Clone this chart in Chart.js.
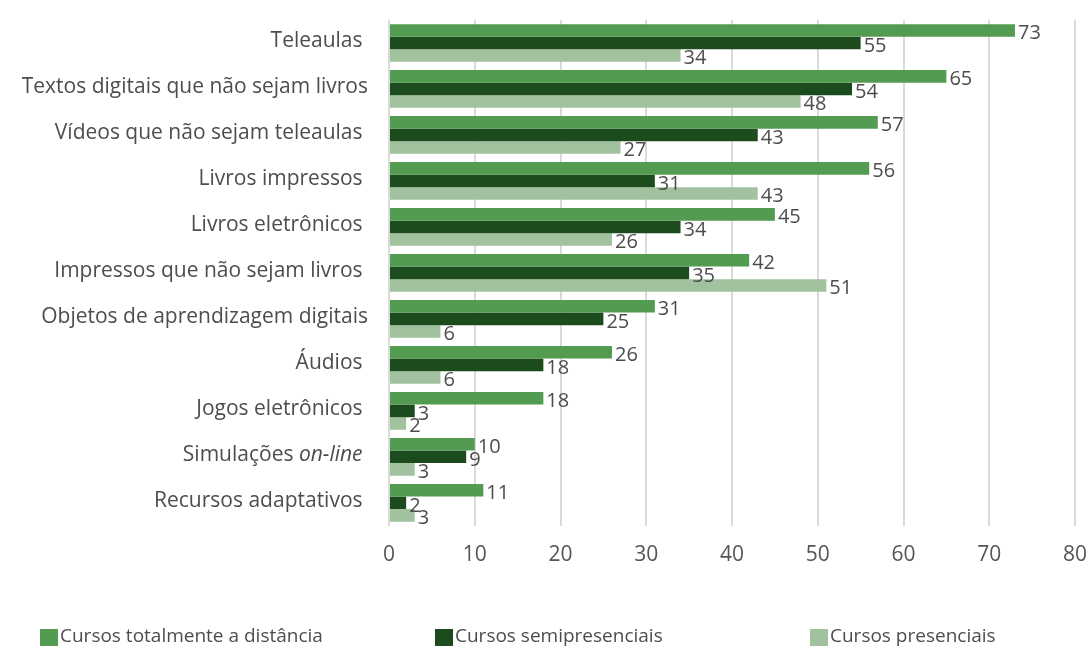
<!DOCTYPE html>
<html lang="pt">
<head>
  <meta charset="UTF-8">
  <title>Recursos educacionais</title>
  <script src="https://cdn.jsdelivr.net/npm/chart.js"></script>
  <style>
    body { margin: 0; background: #fff; }
    .wrap { width: 1086px; height: 648px; position: relative; }
  </style>
</head>
<body>
  <div class="wrap">
    <canvas id="recursosChart"></canvas>
  </div>

  <script>
    const categorias = [
      'Teleaulas ',
      'Textos digitais que não sejam livros',
      'Vídeos que não sejam teleaulas ',
      'Livros impressos ',
      'Livros eletrônicos ',
      'Impressos que não sejam livros ',
      'Objetos de aprendizagem digitais',
      'Áudios ',
      'Jogos eletrônicos ',
      'Simulações on-line ',
      'Recursos adaptativos '
    ];
    const distancia = [73, 65, 57, 56, 45, 42, 31, 26, 18, 10, 11];
    const semipresenciais = [55, 54, 43, 31, 34, 35, 25, 18, 3, 9, 2];
    const presenciais = [34, 48, 27, 43, 26, 51, 6, 6, 2, 3, 3];
    const ticksX = [0, 10, 20, 30, 40, 50, 60, 70, 80];

    const fonte = '"Open Sans", "Noto Sans", sans-serif';
    const corTexto = '#4d4d4d';

    // rótulos do eixo y (com "on-line" em itálico)
    const rotulosY = {
      id: 'rotulosY',
      afterDraw(chart) {
        const ctx = chart.ctx;
        const y = chart.scales.y;
        const xr = chart.chartArea.left - 21;
        ctx.save();
        ctx.fillStyle = corTexto;
        ctx.textBaseline = 'middle';
        ctx.textAlign = 'right';
        categorias.forEach((c, i) => {
          const py = y.getPixelForValue(i) - 2;
          if (c.indexOf('on-line') >= 0) {
            const p1 = 'Simulações ';
            const p2 = 'on-line ';
            ctx.font = 'italic 21px ' + fonte;
            const w2 = ctx.measureText(p2).width;
            ctx.fillText(p2, xr, py);
            ctx.font = '21px ' + fonte;
            ctx.fillText(p1, xr - w2, py);
          } else {
            ctx.font = '21px ' + fonte;
            ctx.fillText(c, xr, py);
          }
        });
        ctx.restore();
      }
    };

    // valores no fim das barras
    const valores = {
      id: 'valores',
      afterDatasetsDraw(chart) {
        const ctx = chart.ctx;
        ctx.save();
        ctx.font = '20px ' + fonte;
        ctx.fillStyle = corTexto;
        ctx.textAlign = 'left';
        ctx.textBaseline = 'middle';
        chart.data.datasets.forEach((ds, di) => {
          chart.getDatasetMeta(di).data.forEach((bar, i) => {
            ctx.fillText(ds.data[i], bar.x + 3, bar.y + 3);
          });
        });
        ctx.restore();
      }
    };

    // legenda embaixo, itens espaçados como no original
    const legendaX = [40, 435, 810];
    const legenda = {
      id: 'legenda',
      afterDraw(chart) {
        const ctx = chart.ctx;
        const yc = 637;
        ctx.save();
        ctx.font = '19px ' + fonte;
        ctx.textBaseline = 'middle';
        ctx.textAlign = 'left';
        chart.data.datasets.forEach((ds, i) => {
          const x = legendaX[i];
          ctx.fillStyle = ds.backgroundColor;
          ctx.fillRect(x, yc - 8, 18, 17);
          ctx.fillStyle = corTexto;
          ctx.fillText(ds.label, x + 20, yc);
        });
        ctx.restore();
      }
    };

    new Chart(document.getElementById('recursosChart'), {
      type: 'bar',
      data: {
        labels: categorias,
        datasets: [
          { label: 'Cursos totalmente a distância', data: distancia, backgroundColor: '#529b50' },
          { label: 'Cursos semipresenciais', data: semipresenciais, backgroundColor: '#1c4b1e' },
          { label: 'Cursos presenciais', data: presenciais, backgroundColor: '#a2c29f' }
        ]
      },
      options: {
        indexAxis: 'y',
        responsive: true,
        maintainAspectRatio: false,
        animation: false,
        layout: { padding: { top: 20, right: 11, bottom: 63, left: 0 } },
        datasets: { bar: { categoryPercentage: 0.82, barPercentage: 1.0 } },
        scales: {
          x: {
            min: 0,
            max: 80,
            afterBuildTicks(scale) { scale.ticks = ticksX.map(v => ({ value: v })); },
            afterFit(scale) { scale.paddingRight = 0; scale.paddingLeft = 0; },
            grid: { color: '#dadada', lineWidth: 2, drawTicks: false },
            border: { display: false },
            ticks: { color: '#555', font: { family: fonte, size: 21 }, padding: 17 }
          },
          y: {
            grid: { display: false },
            border: { display: false },
            ticks: { display: false },
            afterFit(scale) { scale.width = 389; }
          }
        },
        plugins: {
          legend: { display: false },
          tooltip: { enabled: false }
        }
      },
      plugins: [rotulosY, valores, legenda]
    });
  </script>
</body>
</html>
